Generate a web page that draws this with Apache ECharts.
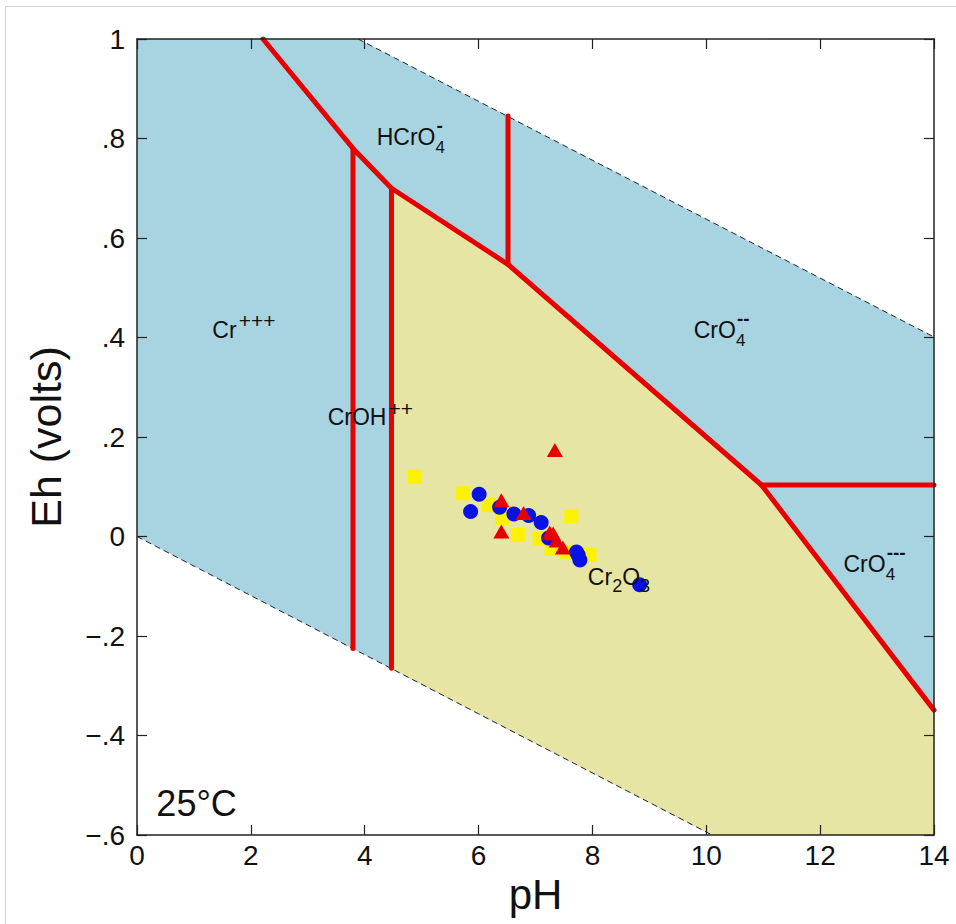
<!DOCTYPE html>
<html>
<head>
<meta charset="utf-8">
<script src="https://cdn.jsdelivr.net/npm/echarts/dist/echarts.min.js"></script>
<style>
html,body{margin:0;padding:0;background:#fff;}
#frame{position:absolute;left:5px;top:6px;width:980px;height:960px;border-left:1px solid #d6d6d6;border-top:1px solid #d6d6d6;}
#chart{position:absolute;left:0;top:0;width:956px;height:924px;}
</style>
</head>
<body>
<div id="frame"></div>
<div id="chart"></div>
<script>
// ---------- axes ----------
const phMin = 0, phMax = 14, phStep = 2;
const ehMin = -0.6, ehMax = 1, ehStep = 0.2;
const xTickLabels = ['0', '2', '4', '6', '8', '10', '12', '14'];
const yTickLabels = ['\u2212.6', '\u2212.4', '\u2212.2', '0', '.2', '.4', '.6', '.8', '1'];

// ---------- stability fields (pH, Eh) ----------
const waterField = [[0, 1], [3.885, 1], [14, 0.401], [14, -0.6], [10.1, -0.6], [0, 0]];
const cr2o3Field = [[4.47, 0.700], [6.517, 0.547], [10.97, 0.1035], [14, -0.349], [14, -0.6], [10.1, -0.6], [4.47, -0.265]];

// water stability limits (dashed)
const upperWaterLine = [[3.885, 1], [14, 0.401]];
const lowerWaterLine = [[0, 0], [10.1, -0.6]];

// species boundaries (red)
const mainBoundary = [[2.213, 1.0], [3.794, 0.780], [4.47, 0.700], [6.517, 0.547], [10.97, 0.1035], [14, -0.349]];
const crOHBoundary = [[3.794, 0.780], [3.794, -0.225]];
const cr2o3LeftBoundary = [[4.47, 0.700], [4.47, -0.265]];
const hcro4Boundary = [[6.517, 0.547], [6.517, 0.845]];
const cro4Boundary = [[10.97, 0.1035], [14, 0.1035]];

// ---------- samples (pH, Eh) ----------
const yellowSquares = [
  [4.88, 0.120], [5.73, 0.087], [6.18, 0.063], [6.41, 0.037], [6.69, 0.003],
  [7.07, -0.004], [7.28, -0.024], [7.54, -0.031], [7.63, 0.041], [7.95, -0.037]
];
const blueCircles = [
  [6.01, 0.085], [5.86, 0.050], [6.37, 0.059], [6.62, 0.045], [6.88, 0.042],
  [7.10, 0.028], [7.23, -0.003], [7.72, -0.031], [7.75, -0.037], [7.78, -0.047], [8.83, -0.097]
];
const redTriangles = [
  [7.34, 0.174], [6.40, 0.073], [6.40, 0.010], [6.79, 0.047],
  [7.25, 0.008], [7.31, 0.006], [7.37, -0.008], [7.48, -0.022]
];

// ---------- field labels: anchor = left end of text baseline (pH, Eh) ----------
const speciesLabels = [
  { ph: 1.324, eh: 0.399, parts: [['n', 'Cr'], ['sup', '+++']] },
  { ph: 4.210, eh: 0.787, parts: [['n', 'HCrO'], ['stack', '4', '-']] },
  { ph: 3.350, eh: 0.224, parts: [['n', 'CrOH'], ['sup', '++']] },
  { ph: 9.780, eh: 0.399, parts: [['n', 'CrO'], ['stack', '4', '--']] },
  { ph: 12.41, eh: -0.071, parts: [['n', 'CrO'], ['stack', '4', '---']] },
  { ph: 7.920, eh: -0.097, parts: [['n', 'Cr'], ['sub', '2'], ['n', 'O'], ['sub', '3']] }
];
const temperatureNote = { ph: 0.34, eh: -0.56, text: '25\u00B0C' };

const FONT = '"Liberation Sans", Arial, Helvetica, sans-serif';
const INK = '#111';

const chart = echarts.init(document.getElementById('chart'), null, { renderer: 'svg' });

function polygonSeries(points, color) {
  return {
    type: 'custom',
    silent: true,
    z: 1,
    data: points,
    renderItem: function (params, api) {
      if (params.context.rendered) return;
      params.context.rendered = true;
      const pts = points.map(p => api.coord(p));
      return { type: 'polygon', shape: { points: pts }, style: { fill: color, stroke: null } };
    }
  };
}
function lineSeries(data, style, z) {
  return { type: 'line', data: data, showSymbol: false, symbol: 'none', silent: true, z: z,
    lineStyle: style, animation: false };
}
const redStyle = { color: '#e60000', width: 5, cap: 'round', join: 'round', opacity: 1 };
const dashStyle = { color: '#222', width: 1, type: [6, 4] };

function axisBase(min, max, step) {
  return {
    type: 'value', min: min, max: max, interval: step, z: 10,
    splitLine: { show: false },
    axisLine: { show: true, onZero: false, lineStyle: { color: '#222', width: 1.5 } },
    axisTick: { show: true, inside: true, length: 10, lineStyle: { color: '#222', width: 1.2 } }
  };
}

const option = {
  animation: false,
  backgroundColor: 'transparent',
  grid: { left: 137, top: 39, right: 22, bottom: 89, containLabel: false },
  xAxis: [
    Object.assign(axisBase(phMin, phMax, phStep), {
      position: 'bottom',
      axisLabel: { fontSize: 28, fontFamily: FONT, color: INK, margin: 6,
        formatter: v => xTickLabels[Math.round((v - phMin) / phStep)] },
      name: 'pH', nameLocation: 'middle', nameGap: 28,
      nameTextStyle: { fontSize: 42, fontFamily: FONT, color: INK }
    }),
    Object.assign(axisBase(phMin, phMax, phStep), { position: 'top', axisLabel: { show: false } })
  ],
  yAxis: [
    Object.assign(axisBase(ehMin, ehMax, ehStep), {
      position: 'left',
      axisLabel: { fontSize: 28, fontFamily: FONT, color: INK, margin: 12,
        formatter: v => yTickLabels[Math.round((v - ehMin) / ehStep)] },
      name: 'Eh (volts)', nameLocation: 'middle', nameGap: 70,
      nameTextStyle: { fontSize: 43, fontFamily: FONT, color: INK }
    }),
    Object.assign(axisBase(ehMin, ehMax, ehStep), { position: 'right', axisLabel: { show: false } })
  ],
  series: [
    polygonSeries(waterField, '#a8d4e2'),
    polygonSeries(cr2o3Field, '#e7e5a3'),
    lineSeries(upperWaterLine, dashStyle, 2),
    lineSeries(lowerWaterLine, dashStyle, 2),
    lineSeries(mainBoundary, redStyle, 3),
    lineSeries(crOHBoundary, redStyle, 3),
    lineSeries(cr2o3LeftBoundary, redStyle, 3),
    lineSeries(hcro4Boundary, redStyle, 3),
    lineSeries(cro4Boundary, redStyle, 3),
    { type: 'scatter', data: yellowSquares, symbol: 'rect', symbolSize: 14, z: 4, silent: true,
      itemStyle: { color: '#fff200', opacity: 1 } },
    { type: 'scatter', data: blueCircles, symbol: 'circle', symbolSize: 15, z: 5, silent: true,
      itemStyle: { color: '#0812e6', opacity: 1 } },
    { type: 'scatter', data: redTriangles, symbol: 'triangle', symbolSize: [16, 14], z: 6, silent: true,
      itemStyle: { color: '#e60000', opacity: 1 } }
  ]
};
chart.setOption(option);

// ---------- text annotations ----------
const MAIN = 23, SUB = 18, SUP = 21, STACK_SUB = 17, STACK_SUP = 19;
const ctx = document.createElement('canvas').getContext('2d');
function measure(t, size, weight) { ctx.font = (weight || 'normal') + ' ' + size + 'px ' + FONT; return ctx.measureText(t).width; }
function textEl(x, y, t, size, weight) {
  return { type: 'text', x: x, y: y, z: 100, silent: true,
    style: { text: t, font: (weight || 'normal') + ' ' + size + 'px ' + FONT, fill: INK,
      align: 'left', verticalAlign: 'middle', textAlign: 'left', textVerticalAlign: 'middle' } };
}
const graphics = [];
speciesLabels.forEach(l => {
  const p = chart.convertToPixel({ xAxisIndex: 0, yAxisIndex: 0 }, [l.ph, l.eh]);
  let x = p[0];
  const base = p[1];
  l.parts.forEach(part => {
    const kind = part[0];
    if (kind === 'n') {
      graphics.push(textEl(x, base - 0.33 * MAIN, part[1], MAIN));
      x += measure(part[1], MAIN);
    } else if (kind === 'sub') {
      graphics.push(textEl(x, base + 7.5 - 0.33 * SUB, part[1], SUB));
      x += measure(part[1], SUB);
    } else if (kind === 'sup') {
      graphics.push(textEl(x + 2, base - 17, part[1], SUP));
      x += measure(part[1], SUP) + 2;
    } else if (kind === 'stack') {
      graphics.push(textEl(x, base + 3, part[1], STACK_SUB));
      graphics.push(textEl(x + 1, base - 19.5, part[2], STACK_SUP, 'bold'));
      x += Math.max(measure(part[1], STACK_SUB), measure(part[2], STACK_SUP, 'bold'));
    }
  });
});
(function () {
  const p = chart.convertToPixel({ xAxisIndex: 0, yAxisIndex: 0 }, [temperatureNote.ph, temperatureNote.eh]);
  graphics.push(textEl(p[0], p[1] - 0.33 * 36, temperatureNote.text, 36));
})();
chart.setOption({ graphic: graphics });
</script>
</body>
</html>
